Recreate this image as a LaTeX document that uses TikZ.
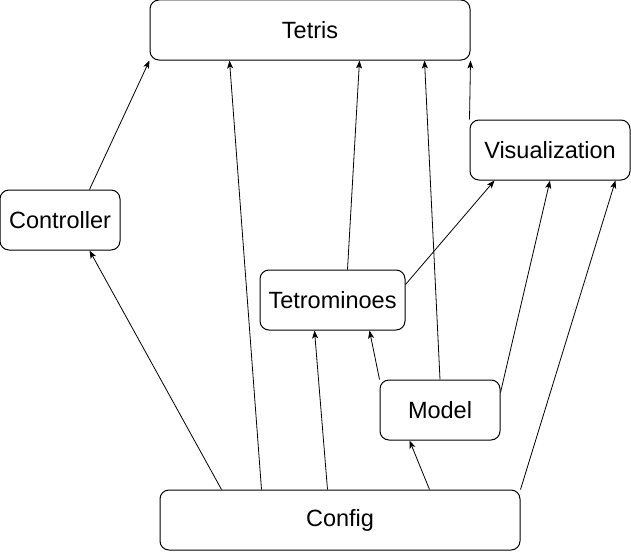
\documentclass[tikz,border=0pt]{standalone}
\usepackage{fontspec}
\setmainfont{Liberation Sans}
\usetikzlibrary{arrows.meta}

\begin{document}
\begin{tikzpicture}[x=1pt,y=-1pt,
	box/.style={draw=black, line width=1pt, rounded corners=9pt, inner sep=0pt, font=\fontsize{23.5}{28}\selectfont},
	dep/.style={draw=black, line width=0.8pt, -{Stealth[length=8pt,width=6pt,inset=2pt]}}]
	\useasboundingbox (0,0) rectangle (631,551);
	\node[box, minimum width=320pt, minimum height=60pt] at (310,30) (tetris) {Tetris};
	\node[box, minimum width=160pt, minimum height=60pt] at (550,150) (vis) {Visualization};
	\node[box, minimum width=120pt, minimum height=60pt] at (60,220) (ctrl) {Controller};
	\node[box, minimum width=145pt, minimum height=60pt] at (332.5,300) (tetro) {Tetrominoes};
	\node[box, minimum width=120pt, minimum height=60pt] at (440,410) (model) {Model};
	\node[box, minimum width=360pt, minimum height=60pt] at (340,520) (config) {Config};
	
	% into Tetris
	\draw[dep] ([xshift=90pt]ctrl.north west)--(tetris.south west);
	\draw[dep] ([xshift=102pt]config.north west)--([xshift=80pt]tetris.south west);
	\draw[dep] ([xshift=88pt]tetro.north west)--([xshift=210pt]tetris.south west);
	\draw[dep] (model.north)--([xshift=275pt]tetris.south west);
	\draw[dep] (vis.north west)--(tetris.south east);
	
	% into Visualization
	\draw[dep] ([yshift=-15pt]tetro.north east)--([xshift=25pt]vis.south west);
	\draw[dep] ([yshift=-13pt]model.north east)--(vis.south);
	\draw[dep] (config.north east)--([xshift=-15pt]vis.south east);
	
	% from Config
	\draw[dep] ([xshift=62pt]config.north west)--([xshift=90pt]ctrl.south west);
	\draw[dep] ([xshift=168pt]config.north west)--([xshift=55pt]tetro.south west);
	\draw[dep] ([xshift=270pt]config.north west)--([xshift=30pt]model.south west);
	\draw[dep] (model.north west)--([xshift=110pt]tetro.south west);
\end{tikzpicture}
\end{document}
